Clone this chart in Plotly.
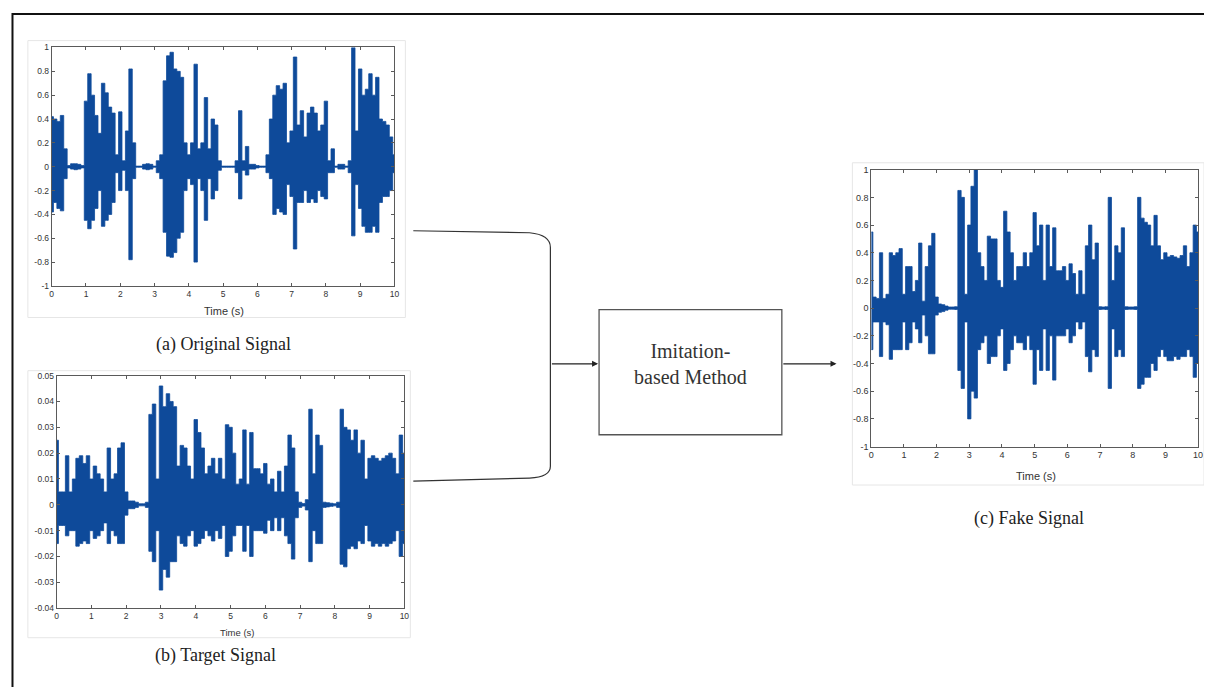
import plotly.graph_objects as go

# ---------------- data (envelopes, 0.1 s steps) ----------------
time_s = [round(i * 0.1, 1) for i in range(101)]

orig_upper = [0.42, 0.40, 0.38, 0.43, 0.15, 0.01, 0.025, 0.025, 0.02, 0.01,
              0.55, 0.78, 0.60, 0.43, 0.28, 0.70, 0.62, 0.50, 0.45, 0.10,
              0.46, 0.05, 0.30, 0.82, 0.20, 0.005, 0.005, 0.02, 0.025, 0.02,
              0.005, 0.05, 0.10, 0.72, 0.93, 0.96, 0.82, 0.80, 0.75, 0.20,
              0.10, 0.20, 0.86, 0.15, 0.20, 0.58, 0.15, 0.40, 0.35, 0.05,
              0.005, 0.005, 0.005, 0.005, 0.05, 0.47, 0.05, 0.17, 0.02, 0.02,
              0.01, 0.005, 0.005, 0.10, 0.40, 0.60, 0.68, 0.65, 0.70, 0.20,
              0.30, 0.92, 0.35, 0.47, 0.25, 0.45, 0.50, 0.45, 0.30, 0.35,
              0.55, 0.05, 0.15, 0.005, 0.02, 0.02, 0.005, 0.05, 1.00, 0.30,
              0.82, 0.60, 0.65, 0.78, 0.60, 0.75, 0.40, 0.38, 0.35, 0.25,
              0.10]
orig_lower = [-0.38, -0.30, -0.35, -0.37, -0.10, -0.01, -0.02, -0.025, -0.02, -0.01,
              -0.45, -0.52, -0.45, -0.35, -0.20, -0.50, -0.45, -0.40, -0.30, -0.05,
              -0.20, -0.03, -0.20, -0.78, -0.10, -0.005, -0.005, -0.02, -0.025, -0.02,
              -0.005, -0.05, -0.10, -0.55, -0.75, -0.76, -0.72, -0.60, -0.55, -0.20,
              -0.10, -0.15, -0.80, -0.10, -0.20, -0.45, -0.10, -0.27, -0.20, -0.03,
              -0.005, -0.005, -0.005, -0.005, -0.05, -0.27, -0.03, -0.07, -0.02, -0.02,
              -0.01, -0.005, -0.005, -0.05, -0.10, -0.40, -0.35, -0.38, -0.40, -0.15,
              -0.25, -0.69, -0.30, -0.30, -0.20, -0.30, -0.27, -0.30, -0.20, -0.25,
              -0.27, -0.05, -0.05, -0.005, -0.02, -0.02, -0.005, -0.05, -0.58, -0.15,
              -0.35, -0.50, -0.55, -0.55, -0.50, -0.55, -0.30, -0.25, -0.25, -0.20,
              -0.05]

target_upper = [0.025, 0.005, 0.005, 0.019, 0.005, 0.010, 0.018, 0.019, 0.016, 0.019,
                0.010, 0.015, 0.012, 0.010, 0.005, 0.022, 0.010, 0.012, 0.022, 0.024,
                0.005, 0.0015, 0.0015, 0.001, 0.0004, 0.0004, 0.001, 0.035, 0.039, 0.010,
                0.046, 0.038, 0.043, 0.040, 0.038, 0.015, 0.023, 0.022, 0.015, 0.010,
                0.033, 0.028, 0.022, 0.012, 0.015, 0.018, 0.012, 0.018, 0.010, 0.031,
                0.030, 0.020, 0.008, 0.010, 0.029, 0.008, 0.028, 0.014, 0.014, 0.012,
                0.016, 0.008, 0.010, 0.005, 0.013, 0.005, 0.015, 0.027, 0.022, 0.005,
                0.001, 0.0005, 0.002, 0.037, 0.012, 0.027, 0.023, 0.001, 0.0008, 0.0006,
                0.0004, 0.001, 0.037, 0.030, 0.029, 0.025, 0.029, 0.020, 0.025, 0.010,
                0.018, 0.019, 0.018, 0.017, 0.018, 0.019, 0.020, 0.018, 0.012, 0.027,
                0.020]
target_lower = [-0.015, -0.008, -0.008, -0.012, -0.010, -0.010, -0.016, -0.015, -0.014, -0.015,
                -0.010, -0.013, -0.012, -0.010, -0.007, -0.015, -0.010, -0.012, -0.015, -0.015,
                -0.004, -0.0015, -0.0015, -0.001, -0.0004, -0.0004, -0.001, -0.018, -0.022, -0.010,
                -0.033, -0.025, -0.028, -0.022, -0.022, -0.012, -0.015, -0.016, -0.012, -0.010,
                -0.016, -0.015, -0.013, -0.010, -0.012, -0.014, -0.010, -0.013, -0.008, -0.020,
                -0.018, -0.012, -0.008, -0.008, -0.018, -0.008, -0.020, -0.010, -0.010, -0.010,
                -0.011, -0.006, -0.010, -0.005, -0.010, -0.005, -0.012, -0.015, -0.021, -0.005,
                -0.001, -0.0005, -0.002, -0.022, -0.010, -0.015, -0.015, -0.001, -0.0008, -0.0006,
                -0.0004, -0.001, -0.023, -0.024, -0.017, -0.016, -0.017, -0.014, -0.015, -0.008,
                -0.014, -0.016, -0.015, -0.016, -0.015, -0.016, -0.015, -0.014, -0.010, -0.020,
                -0.015]

fake_upper = [0.55, 0.08, 0.07, 0.40, 0.07, 0.10, 0.40, 0.38, 0.40, 0.43,
              0.10, 0.30, 0.30, 0.12, 0.20, 0.47, 0.05, 0.30, 0.45, 0.54,
              0.08, 0.03, 0.025, 0.015, 0.008, 0.008, 0.01, 0.85, 0.80, 0.10,
              0.60, 0.88, 1.00, 0.40, 0.30, 0.20, 0.52, 0.50, 0.50, 0.20,
              0.15, 0.70, 0.55, 0.40, 0.20, 0.30, 0.30, 0.40, 0.30, 0.40,
              0.69, 0.45, 0.60, 0.20, 0.60, 0.30, 0.58, 0.27, 0.27, 0.30,
              0.20, 0.32, 0.25, 0.10, 0.27, 0.10, 0.45, 0.60, 0.35, 0.47,
              0.01, 0.008, 0.01, 0.80, 0.20, 0.45, 0.40, 0.58, 0.01, 0.008,
              0.008, 0.01, 0.80, 0.65, 0.62, 0.60, 0.45, 0.67, 0.45, 0.35,
              0.40, 0.37, 0.38, 0.37, 0.36, 0.38, 0.45, 0.30, 0.40, 0.60,
              0.55]
fake_lower = [-0.30, -0.10, -0.10, -0.35, -0.10, -0.12, -0.37, -0.30, -0.30, -0.30,
              -0.10, -0.30, -0.25, -0.10, -0.15, -0.25, -0.05, -0.20, -0.33, -0.33,
              -0.05, -0.03, -0.025, -0.015, -0.008, -0.008, -0.01, -0.45, -0.58, -0.10,
              -0.80, -0.60, -0.65, -0.30, -0.25, -0.20, -0.40, -0.35, -0.35, -0.20,
              -0.15, -0.45, -0.40, -0.30, -0.20, -0.25, -0.25, -0.30, -0.20, -0.30,
              -0.55, -0.30, -0.45, -0.15, -0.45, -0.20, -0.52, -0.20, -0.20, -0.20,
              -0.15, -0.25, -0.20, -0.10, -0.15, -0.10, -0.35, -0.46, -0.30, -0.35,
              -0.01, -0.008, -0.01, -0.58, -0.15, -0.35, -0.30, -0.35, -0.01, -0.008,
              -0.008, -0.01, -0.58, -0.55, -0.50, -0.50, -0.40, -0.45, -0.35, -0.30,
              -0.35, -0.38, -0.38, -0.35, -0.37, -0.35, -0.35, -0.30, -0.35, -0.50,
              -0.40]

x_ticks = list(range(0, 11))
unit_yticks = [-1, -0.8, -0.6, -0.4, -0.2, 0, 0.2, 0.4, 0.6, 0.8, 1]
unit_ytext = ["-1", "-0.8", "-0.6", "-0.4", "-0.2", "0", "0.2", "0.4", "0.6", "0.8", "1"]
target_yticks = [-0.04, -0.03, -0.02, -0.01, 0, 0.01, 0.02, 0.03, 0.04, 0.05]
target_ytext = ["-0.04", "-0.03", "-0.02", "-0.01", "0", "0.01", "0.02", "0.03", "0.04", "0.05"]

captions = ["(a) Original Signal", "(b) Target Signal", "(c) Fake Signal"]
method_text = "Imitation-<br>based Method"

# ---------------- placement (screen pixels; the page puts the figure at 8,8) ----------------
OFF = 8
W, H = 1204, 684

WAVE = "#0e4a9a"
AXC = "#5a5a5a"
SANS = "Arial, 'Liberation Sans', sans-serif"
SERIF = "'Times New Roman', 'Liberation Serif', serif"


def dom_x(a, b):
    return [max(0, (a - OFF) / W), min(1, (b - OFF) / W)]


def dom_y(top, bottom):
    return [max(0, 1 - (bottom - OFF) / H), min(1, 1 - (top - OFF) / H)]


fig = go.Figure()

panels = [
    (time_s, orig_upper, orig_lower, "x", "y"),
    (time_s, target_upper, target_lower, "x2", "y2"),
    (time_s, fake_upper, fake_lower, "x3", "y3"),
]
for t, up, lo, xa, ya in panels:
    fig.add_trace(go.Scatter(
        x=list(t) + list(t[::-1]),
        y=list(up) + list(lo[::-1]),
        fill="toself", fillcolor=WAVE, mode="lines",
        line=dict(color=WAVE, width=0.8, shape="hvh"),
        xaxis=xa, yaxis=ya, showlegend=False, hoverinfo="skip"))

# invisible screen-pixel overlay used for the diagram parts
fig.add_trace(go.Scatter(x=[OFF + 1], y=[OFF + 1], mode="markers", marker=dict(opacity=0),
                         xaxis="x4", yaxis="y4", showlegend=False, hoverinfo="skip"))


def axis_style(size):
    return dict(showline=True, linecolor=AXC, linewidth=1, mirror="ticks",
                ticks="inside", ticklen=3, tickcolor=AXC, showgrid=False,
                zeroline=False, tickfont=dict(family=SANS, size=size, color="#333"))


fig.update_layout(
    width=W, height=H,
    margin=dict(l=0, r=0, t=0, b=0),
    paper_bgcolor="white", plot_bgcolor="rgba(0,0,0,0)",
    xaxis=dict(domain=dom_x(49, 394), range=[0, 10], tickvals=x_ticks, anchor="y", **axis_style(8.5)),
    yaxis=dict(domain=dom_y(43, 285), range=[-1, 1], tickvals=unit_yticks, ticktext=unit_ytext,
               anchor="x", **axis_style(8.5)),
    xaxis2=dict(domain=dom_x(54, 404), range=[0, 10], tickvals=x_ticks, anchor="y2", **axis_style(8.5)),
    yaxis2=dict(domain=dom_y(376, 612), range=[-0.04, 0.05], tickvals=target_yticks,
                ticktext=target_ytext, anchor="x2", **axis_style(8.5)),
    xaxis3=dict(domain=dom_x(874, 1203), range=[0, 10], tickvals=x_ticks, anchor="y3", **axis_style(9)),
    yaxis3=dict(domain=dom_y(167, 448), range=[-1, 1], tickvals=unit_yticks, ticktext=unit_ytext,
                anchor="x3", **axis_style(9)),
    xaxis4=dict(domain=[0, 1], range=[OFF, OFF + W], visible=False, anchor="y4"),
    yaxis4=dict(domain=[0, 1], range=[OFF + H, OFF], visible=False, anchor="x4"),
)

shapes = []
# outer frame (top-left corner as close as the page allows)
shapes.append(dict(type="rect", xref="x4", yref="y4", x0=9.5, y0=9, x1=1260, y1=760,
                   line=dict(color="#111", width=2)))
# faint screenshot frames around each plot
for x0, y0, x1, y1 in [(25, 36, 405, 317), (25, 371, 410, 642), (855, 160, 1209, 487)]:
    shapes.append(dict(type="rect", xref="x4", yref="y4", x0=x0, y0=y0, x1=x1, y1=y1,
                       line=dict(color="#e6e6e6", width=1)))
# connector bracket
shapes.append(dict(type="path", xref="x4", yref="y4",
                   path="M 413 229 L 530 231 Q 551 233 551 246 L 551 468 Q 551 479 530 480 L 413 483",
                   line=dict(color="#333", width=1.2)))
# method box
shapes.append(dict(type="rect", xref="x4", yref="y4", x0=600, y0=309, x1=784, y1=436,
                   line=dict(color="#555", width=1.3)))
fig.update_layout(shapes=shapes)

ann = []
for xs, xe in [(551, 599), (784, 839)]:
    ann.append(dict(x=xe, y=364, ax=xs, ay=364, xref="x4", yref="y4", axref="x4", ayref="y4",
                    showarrow=True, arrowhead=2, arrowsize=1, arrowwidth=1.2,
                    arrowcolor="#222", text=""))
ann.append(dict(x=692, y=364, xref="x4", yref="y4", text=method_text, showarrow=False,
                font=dict(family=SERIF, size=20, color="#333"), align="center"))
for txt, cx, cy in zip(captions, [222, 214, 1033], [344, 660, 521]):
    ann.append(dict(x=cx, y=cy, xref="x4", yref="y4", text=txt, showarrow=False,
                    font=dict(family=SERIF, size=18, color="#222")))
for cx, cy, fs in [(222, 310, 11), (236, 637, 9.5), (1040, 478, 11)]:
    ann.append(dict(x=cx, y=cy, xref="x4", yref="y4", text="Time (s)", showarrow=False,
                    font=dict(family=SANS, size=fs, color="#333")))
fig.update_layout(annotations=ann)

fig.write_html("out.html")
